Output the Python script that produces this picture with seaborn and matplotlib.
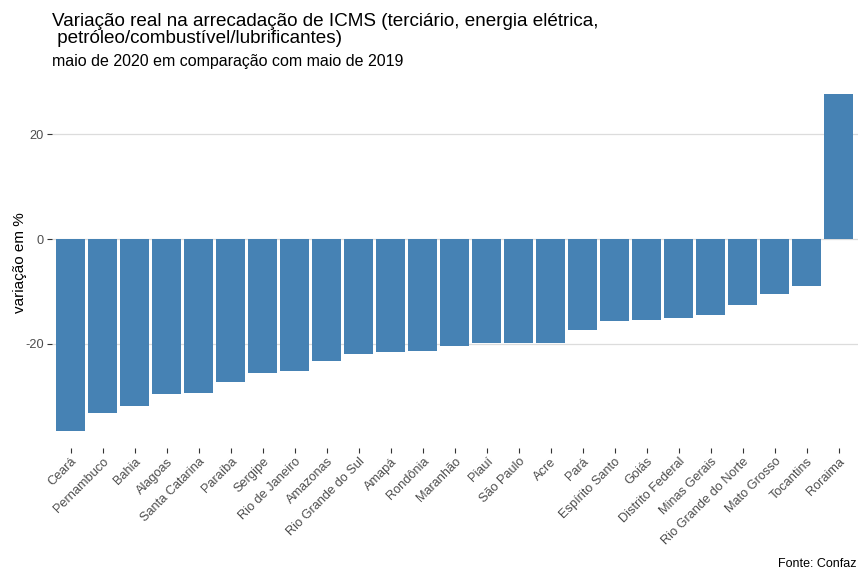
import matplotlib
matplotlib.use("Agg")
import matplotlib.pyplot as plt
import pandas as pd
import seaborn as sns

# dados: variação real (%) maio/2020 vs maio/2019
estados = ["Ceará", "Pernambuco", "Bahia", "Alagoas", "Santa Catarina", "Paraíba",
           "Sergipe", "Rio de Janeiro", "Amazonas", "Rio Grande do Sul", "Amapá",
           "Rondônia", "Maranhão", "Piauí", "São Paulo", "Acre", "Pará",
           "Espírito Santo", "Goiás", "Distrito Federal", "Minas Gerais",
           "Rio Grande do Norte", "Mato Grosso", "Tocantins", "Roraima"]
variacao = [-36.6, -33.2, -31.9, -29.6, -29.4, -27.3,
            -25.6, -25.2, -23.3, -22.0, -21.6,
            -21.4, -20.3, -19.9, -19.9, -19.9, -17.4,
            -15.7, -15.5, -15.1, -14.4,
            -12.5, -10.4, -9.0, 27.7]
yticks = [-20, 0, 20]

df = pd.DataFrame({"estado": estados, "variacao": variacao})

sns.set_theme(style="white")
plt.rcParams["font.family"] = ["Liberation Sans", "DejaVu Sans"]

W, H = 866, 578
fig = plt.figure(figsize=(W / 100, H / 100), dpi=100)
ax = fig.add_axes([0.0595, 0.225, 0.931, 0.642])

sns.barplot(data=df, x="estado", y="variacao", order=estados,
            color="#4682B4", saturation=1, width=0.9, linewidth=0, ax=ax)

ax.set_xlim(-0.6, len(estados) - 0.4)
lo, hi = min(variacao), max(variacao)
pad = (hi - lo) * 0.05
ax.set_ylim(lo - pad, hi + pad)
ax.set_yticks(yticks)
ax.set_yticklabels([str(v) for v in yticks])
ax.yaxis.grid(True, color="#DCDCDC", linewidth=0.9)
ax.xaxis.grid(False)
ax.set_axisbelow(True)
for s in ax.spines.values():
    s.set_visible(False)

ax.tick_params(axis="both", which="both", length=3.5, width=0.8, color="#333333",
               labelsize=9.2, labelcolor="#4D4D4D", pad=2)
ax.tick_params(axis="x", bottom=True)
ax.tick_params(axis="y", left=True)
plt.setp(ax.get_xticklabels(), rotation=45, ha="right", rotation_mode="anchor")

ax.set_xlabel("")
ax.set_ylabel("variação em %", fontsize=11, color="black", labelpad=-1)

# título em duas linhas, subtítulo e fonte
fig.text(52 / W, 1 - 26 / H, "Variação real na arrecadação de ICMS (terciário, energia elétrica,",
         fontsize=13.6, color="black", ha="left", va="baseline")
fig.text(52 / W, 1 - 43 / H, " petróleo/combustível/lubrificantes)",
         fontsize=13.6, color="black", ha="left", va="baseline")
fig.text(52 / W, 1 - 66 / H, "maio de 2020 em comparação com maio de 2019",
         fontsize=11.5, color="black", ha="left", va="baseline")
fig.text(857 / W, 1 - 567 / H, "Fonte: Confaz", fontsize=9, color="black",
         ha="right", va="baseline")

fig.savefig("out.png", dpi=100, facecolor="white")
